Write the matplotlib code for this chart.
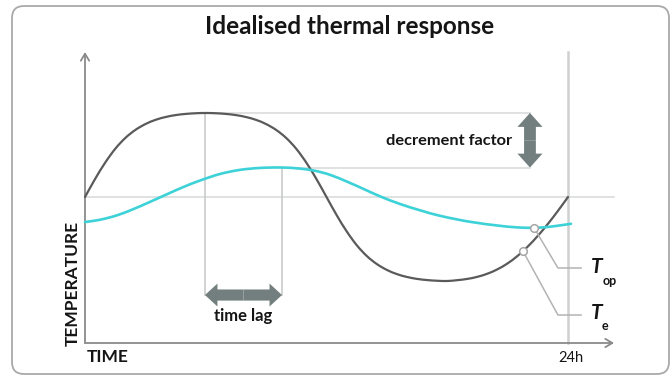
import numpy as np
import matplotlib
matplotlib.use("Agg")
import matplotlib.pyplot as plt
from matplotlib.path import Path
from matplotlib.patches import PathPatch, FancyArrowPatch, FancyBboxPatch
from matplotlib.transforms import IdentityTransform

plt.rcParams['font.family'] = ['Lato', 'DejaVu Sans']

# External temperature Te over one day (hour, degC)
te_hours = [0.0, 0.5, 1.0, 1.5, 2.0, 2.5, 3.0, 3.5, 4.0, 4.5, 5.0, 5.5, 6.0,
            6.5, 7.0, 7.5, 8.0, 8.5, 9.0, 9.5, 10.0, 10.5, 11.0, 11.5, 12.0,
            12.5, 13.0, 13.5, 14.0, 14.5, 15.0, 15.5, 16.0, 16.5, 17.0, 17.5, 18.0,
            18.5, 19.0, 19.5, 20.0, 20.5, 21.0, 21.5, 22.0, 22.5, 23.0, 23.5, 24.0]
te_temp = [20.0, 22.14, 24.08, 25.73, 27.02, 27.98, 28.68, 29.18, 29.52, 29.75, 29.89, 29.97, 30.0,
           29.97, 29.89, 29.75, 29.52, 29.18, 28.68, 27.98, 27.02, 25.73, 24.08, 22.14, 20.0,
           17.86, 15.92, 14.27, 12.98, 12.02, 11.32, 10.82, 10.48, 10.25, 10.11, 10.03, 10.0,
           10.1, 10.25, 10.5, 10.875, 11.4, 12.1, 13.0, 14.1, 15.375, 16.8, 18.35, 20.0]

# Operative indoor temperature Top (hour, degC)
top_hours = [0.0, 0.745, 1.59, 2.385, 3.23, 4.075, 4.87, 5.714, 6.708, 7.702,
             8.696, 9.789, 10.683, 11.429, 12.174, 13.019, 13.913, 14.658,
             15.652, 16.646, 17.64, 19.13, 20.621, 21.366, 22.112, 22.857,
             23.602, 24.149]
top_temp = [17.02, 17.29, 17.82, 18.54, 19.42, 20.33, 21.17, 21.96, 22.74, 23.23,
            23.46, 23.51, 23.38, 23.12, 22.64, 21.83, 20.88, 20.08,
            19.17, 18.42, 17.76, 17.05, 16.57, 16.40, 16.33, 16.40,
            16.62, 16.81]

mean_temp = 20.0
te_peak = (5.96, 30.0)
top_peak = (9.79, 23.51)
day_end = 24.0
top_marker = (22.31, 16.34)
te_marker = (21.76, 13.57)

# layout in data units
X_LIM = (-85 * 24 / 483, 587 * 24 / 483)
Y_LIM = (20 - 182 / 8.4, 20 + 197 / 8.4)
axis_floor = 20 - 146 / 8.4
axis_top = 20 + 145 / 8.4
axis_right = 529 * 24 / 483
decrement_x = 22.11
lag_y = 8.33

DARK = '#5a5a5a'
CYAN = '#3dd2d7'
GUIDE = '#dadddd'
GUIDE_V = '#c9cbcb'
AXIS = '#8a8a8a'
ARROW = '#737f7f'
TEXT = '#151515'


def smooth_path(xs, ys):
    xs = np.asarray(xs, float)
    ys = np.asarray(ys, float)
    n = len(xs)
    m = np.empty(n)
    m[0] = (ys[1] - ys[0]) / (xs[1] - xs[0])
    m[-1] = (ys[-1] - ys[-2]) / (xs[-1] - xs[-2])
    for i in range(1, n - 1):
        m[i] = (ys[i + 1] - ys[i - 1]) / (xs[i + 1] - xs[i - 1])
    verts = [(xs[0], ys[0])]
    codes = [Path.MOVETO]
    for i in range(n - 1):
        h = xs[i + 1] - xs[i]
        verts += [(xs[i] + h / 3, ys[i] + m[i] * h / 3),
                  (xs[i + 1] - h / 3, ys[i + 1] - m[i + 1] * h / 3),
                  (xs[i + 1], ys[i + 1])]
        codes += [Path.CURVE4] * 3
    return Path(verts, codes)


def fat_double_arrow(ax, a, b, style):
    mid = ((a[0] + b[0]) / 2, (a[1] + b[1]) / 2)
    for end in (a, b):
        ax.add_patch(FancyArrowPatch(mid, end, arrowstyle=style,
                                     mutation_scale=10, color=ARROW, lw=0,
                                     shrinkA=0, shrinkB=0, zorder=5))


fig = plt.figure(figsize=(6.72, 3.79), dpi=100)
fig.patch.set_facecolor('white')
ax = fig.add_axes([0, 0, 1, 1])
ax.set_xlim(*X_LIM)
ax.set_ylim(*Y_LIM)
ax.axis('off')

# outer rounded frame
fig.add_artist(FancyBboxPatch((12, 5), 657, 368,
                              boxstyle='round,pad=0,rounding_size=12',
                              transform=IdentityTransform(), fill=False,
                              edgecolor='#a9a9a9', lw=1.3))

# guide lines
ax.plot([0, axis_right], [mean_temp, mean_temp], color=GUIDE, lw=1.2, zorder=1)
ax.plot([te_peak[0], decrement_x], [te_peak[1], te_peak[1]], color=GUIDE, lw=1.2, zorder=1)
ax.plot([top_peak[0], decrement_x], [top_peak[1], top_peak[1]], color=GUIDE, lw=1.2, zorder=1)
ax.plot([te_peak[0], te_peak[0]], [te_peak[1], lag_y], color=GUIDE_V, lw=1.2, zorder=1)
ax.plot([top_peak[0], top_peak[0]], [top_peak[1], lag_y], color=GUIDE_V, lw=1.2, zorder=1)
ax.plot([day_end, day_end], [axis_floor, axis_top], color='#cfd1d1', lw=1.8, zorder=1)

# axes with open arrow heads
ax.annotate('', xy=(0, axis_top), xytext=(0, axis_floor),
            arrowprops=dict(arrowstyle='->,head_length=0.5,head_width=0.3',
                            color=AXIS, lw=1.3, shrinkA=0, shrinkB=0))
ax.annotate('', xy=(axis_right, axis_floor), xytext=(0, axis_floor),
            arrowprops=dict(arrowstyle='->,head_length=0.5,head_width=0.3',
                            color=AXIS, lw=1.3, shrinkA=0, shrinkB=0))

# temperature curves
ax.add_patch(PathPatch(smooth_path(te_hours, te_temp), fill=False,
                       edgecolor=DARK, lw=1.6, capstyle='round', zorder=3))
ax.add_patch(PathPatch(smooth_path(top_hours, top_temp), fill=False,
                       edgecolor=CYAN, lw=1.9, capstyle='round', zorder=3))

# decrement factor and time lag arrows
fat_double_arrow(ax, (decrement_x, te_peak[1]), (decrement_x, top_peak[1]),
                 'simple,head_length=1.0,head_width=1.8,tail_width=0.85')
fat_double_arrow(ax, (te_peak[0], lag_y), (top_peak[0], lag_y),
                 'simple,head_length=0.9,head_width=1.65,tail_width=0.8')
ax.text(18.1, 26.7, 'decrement factor', fontsize=11.8, fontweight='bold',
        color=TEXT, ha='center', va='center')
ax.text(7.85, 5.8, 'time lag', fontsize=12, fontweight='bold',
        color=TEXT, ha='center', va='center')

# leader lines to the curve labels
knee_x, end_x = 23.5, 24.65
ax.plot([top_marker[0], knee_x, end_x], [top_marker[1], 11.55, 11.55],
        color='#b3b3b3', lw=1.1, zorder=4)
ax.plot([te_marker[0], knee_x, end_x], [te_marker[1], 5.95, 5.95],
        color='#b3b3b3', lw=1.1, zorder=4)
ax.plot(*top_marker, marker='o', ms=5.5, mfc='white', mec='#a5a5a5', mew=1.1, zorder=6)
ax.plot(*te_marker, marker='o', ms=5.5, mfc='white', mec='#a5a5a5', mew=1.1, zorder=6)

ax.text(25.44, 11.7, 'T', fontsize=15, fontweight='bold', style='italic',
        color=TEXT, ha='center', va='center')
ax.text(26.05, 10.0, 'op', fontsize=9, fontweight='bold',
        color=TEXT, ha='center', va='center')
ax.text(25.44, 6.2, 'T', fontsize=15, fontweight='bold', style='italic',
        color=TEXT, ha='center', va='center')
ax.text(25.86, 4.6, 'e', fontsize=9, fontweight='bold',
        color=TEXT, ha='center', va='center')

# axis captions
ax.text(0.1, axis_floor - 1.65, 'TIME', fontsize=12.5, fontweight='bold',
        color=TEXT, ha='left', va='center')
ax.text(-0.62, 9.7, 'TEMPERATURE', fontsize=12.5, fontweight='bold',
        color=TEXT, ha='center', va='center', rotation=90)
ax.text(day_end + 0.15, axis_floor - 1.8, '24h', fontsize=10.5,
        color=TEXT, ha='center', va='center')

fig.text(0.52, 1 - 26 / 379, 'Idealised thermal response', fontsize=17.5,
         fontweight='bold', color=TEXT, ha='center', va='center')

fig.savefig('out.png', dpi=100, facecolor='white')
